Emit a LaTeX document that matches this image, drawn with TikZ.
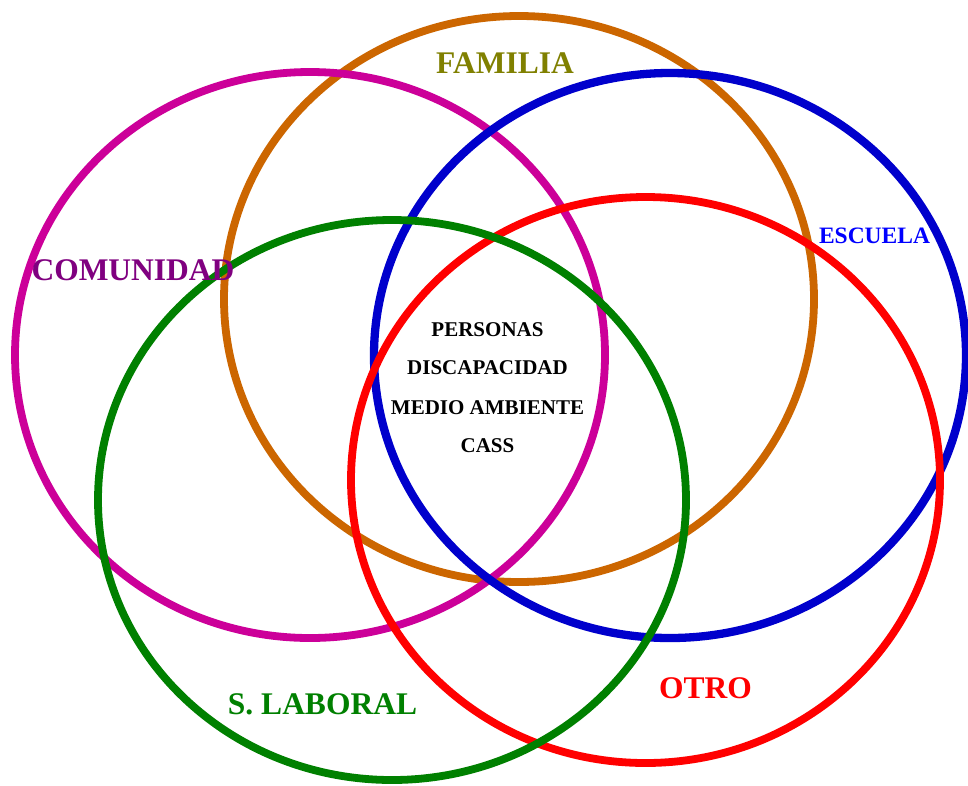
\documentclass[tikz,border=0pt]{standalone}
\usepackage{fontspec}
\setmainfont{Liberation Serif}
\definecolor{cMag}{RGB}{204,0,153}
\definecolor{cOra}{RGB}{204,102,0}
\definecolor{cBlu}{RGB}{0,0,204}
\definecolor{cRed}{RGB}{255,0,0}
\definecolor{cGre}{RGB}{0,128,0}
\definecolor{tOli}{RGB}{128,128,0}
\definecolor{tPur}{RGB}{128,0,128}
\definecolor{tBlu}{RGB}{0,0,255}
\definecolor{tRed}{RGB}{255,0,0}
\definecolor{tGre}{RGB}{0,128,0}
\tikzset{
  ring/.style={line width=7.8pt},
  biglabel/.style={font=\fontsize{31.5}{36}\selectfont\bfseries, inner sep=0pt, anchor=base},
  midlabel/.style={font=\fontsize{23.5}{28}\selectfont\bfseries, inner sep=0pt, anchor=base},
  corelabel/.style={font=\fontsize{21}{25}\selectfont\bfseries, inner sep=0pt, anchor=base},
}
\begin{document}
\begin{tikzpicture}[x=1pt,y=-1pt]
\useasboundingbox (0,0) rectangle (968,785);
\fill[white] (0,0) rectangle (968,785);
% rings, bottom to top
\draw[ring, cOra] (519,299) ellipse [x radius=295, y radius=283];
\draw[ring, cMag] (310,355) ellipse [x radius=295, y radius=283];
\draw[ring, cBlu, line width=8.3pt] (670,355.5) ellipse [x radius=296, y radius=282.5];
\draw[ring, cRed] (645.5,480) ellipse [x radius=294.5, y radius=283];
\draw[ring, cGre] (392,500) ellipse [x radius=294, y radius=280];
% labels
\node[biglabel, text=tOli] (familia) at (505,73) {FAMILIA};
\node[biglabel, text=tPur] (comunidad) at (133,280) {COMUNIDAD};
\node[midlabel, text=tBlu] (escuela) at (874.5,243) {ESCUELA};
\node[biglabel, text=tRed] (otro) at (705.5,698) {OTRO};
\node[biglabel, text=tGre] (laboral) at (322.5,714) {S. LABORAL};
\node[corelabel] (personas) at (487.5,336) {PERSONAS};
\node[corelabel] (discap) at (487.5,374) {DISCAPACIDAD};
\node[corelabel] (medio) at (487.5,414) {MEDIO AMBIENTE};
\node[corelabel] (cass) at (487.5,452) {CASS};
\end{tikzpicture}
\end{document}
